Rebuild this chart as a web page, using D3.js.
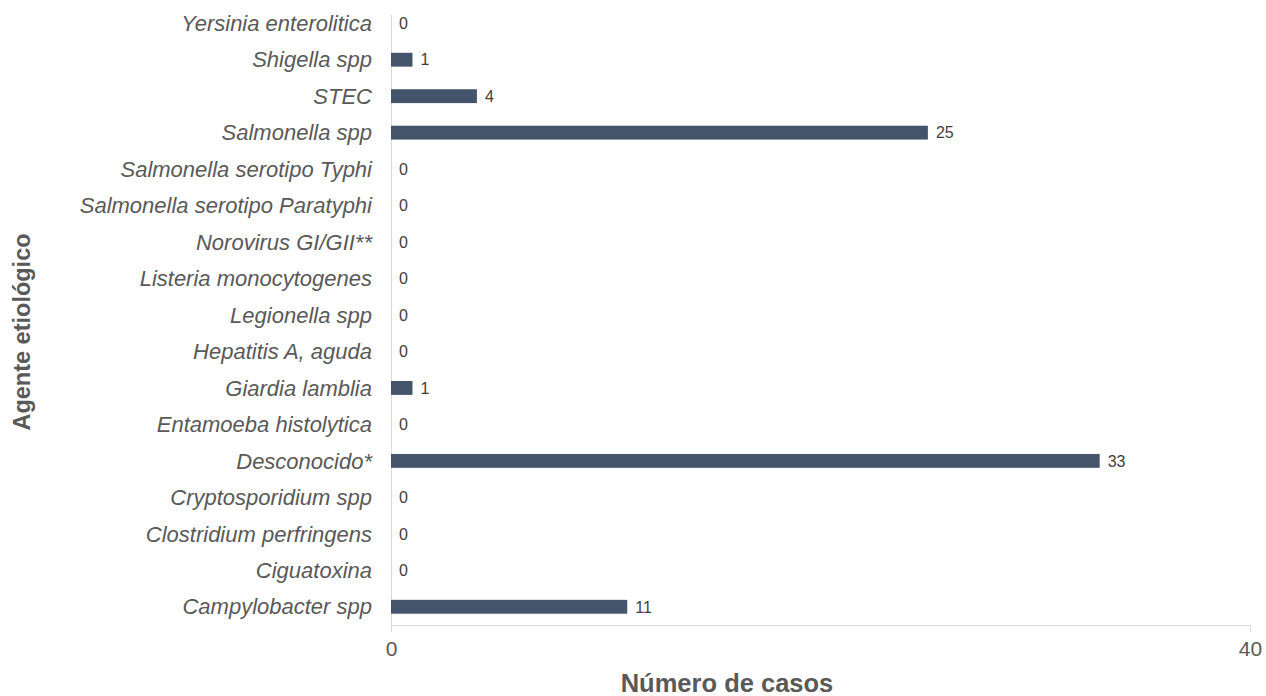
<!DOCTYPE html>
<html>
<head>
<meta charset="utf-8">
<script src="https://cdn.jsdelivr.net/npm/d3@7"></script>
<style>
  body { margin: 0; background: #fff; font-family: "Liberation Sans", Arial, sans-serif; }
</style>
</head>
<body>
<div id="chart"></div>
<script>
var agentes = ["Yersinia enterolitica", "Shigella spp", "STEC", "Salmonella spp",
  "Salmonella serotipo Typhi", "Salmonella serotipo Paratyphi", "Norovirus GI/GII**",
  "Listeria monocytogenes", "Legionella spp", "Hepatitis A, aguda", "Giardia lamblia",
  "Entamoeba histolytica", "Desconocido*", "Cryptosporidium spp", "Clostridium perfringens",
  "Ciguatoxina", "Campylobacter spp"];
var casos = [0, 1, 4, 25, 0, 0, 0, 0, 0, 0, 1, 0, 33, 0, 0, 0, 11];
var xTicks = [0, 40];

var width = 1266, height = 696,
    margin = {top: 5, right: 16, bottom: 71, left: 391};

var svg = d3.select("#chart").append("svg")
    .attr("width", width)
    .attr("height", height);

var x = d3.scaleLinear().domain([0, 40]).range([margin.left, width - margin.right]);
var y = d3.scaleBand().domain(agentes).range([margin.top, height - margin.bottom]).paddingInner(0.62).paddingOuter(0.31);

// x axis
var xAxis = svg.append("g")
    .attr("transform", "translate(0," + (height - margin.bottom) + ")")
    .call(d3.axisBottom(x).tickValues(xTicks).tickSize(7).tickPadding(9).tickFormat(d3.format("d")));
xAxis.select(".domain").attr("stroke", "#d9d9d9").attr("d", "M" + x(0) + ",0.5H" + x(40));
xAxis.selectAll(".tick line").attr("stroke", "#d9d9d9");
xAxis.selectAll(".tick text").attr("fill", "#595959").style("font-size", "21px")
    .style("font-family", "Liberation Sans, Arial, sans-serif");

// y axis line
svg.append("line")
    .attr("x1", x(0) + 0.5).attr("x2", x(0) + 0.5)
    .attr("y1", margin.top + 10).attr("y2", height - margin.bottom)
    .attr("stroke", "#d9d9d9");

// category labels
svg.append("g").selectAll("text")
    .data(agentes).enter().append("text")
    .attr("x", margin.left - 19)
    .attr("y", function (d) { return y(d) + y.bandwidth() / 2; })
    .attr("dy", "0.35em")
    .attr("text-anchor", "end")
    .attr("fill", "#595959")
    .style("font-size", "22px")
    .style("font-style", "italic")
    .text(function (d) { return d; });

// bars
svg.append("g").selectAll("rect")
    .data(casos).enter().append("rect")
    .attr("x", x(0))
    .attr("y", function (d, i) { return y(agentes[i]); })
    .attr("width", function (d) { return x(d) - x(0); })
    .attr("height", y.bandwidth())
    .attr("fill", "#44546a");

// value labels
svg.append("g").selectAll("text")
    .data(casos).enter().append("text")
    .attr("x", function (d) { return x(d) + 8; })
    .attr("y", function (d, i) { return y(agentes[i]) + y.bandwidth() / 2; })
    .attr("dy", "0.36em")
    .attr("fill", "#404040")
    .style("font-size", "16px")
    .text(function (d) { return d; });

// titles
svg.append("text")
    .attr("x", 727).attr("y", 692)
    .attr("text-anchor", "middle")
    .attr("fill", "#595959")
    .style("font-size", "25.5px").style("font-weight", "bold")
    .text("Número de casos");

svg.append("text")
    .attr("transform", "translate(30,332) rotate(-90)")
    .attr("text-anchor", "middle")
    .attr("fill", "#595959")
    .style("font-size", "23.5px").style("font-weight", "bold")
    .text("Agente etiológico");
</script>
</body>
</html>
